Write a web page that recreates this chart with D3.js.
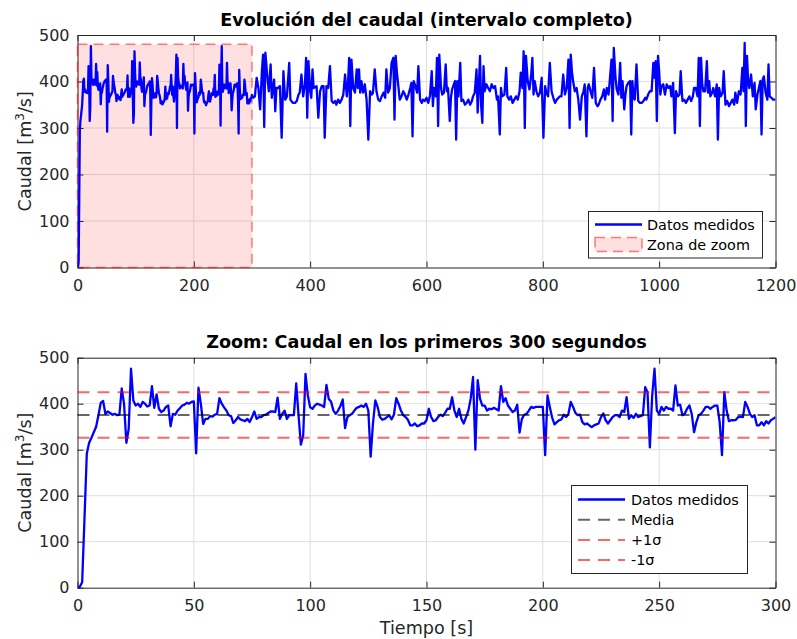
<!DOCTYPE html>
<html><head><meta charset="utf-8">
<script src="https://cdn.jsdelivr.net/npm/d3@7"></script>
<style>body{margin:0;background:#fff}svg{display:block}text{font-family:"DejaVu Sans",sans-serif}</style>
</head><body><svg id="c" width="797" height="639"></svg>
<script>
// Caudal medido, primeros 300 s (1 muestra por segundo, t = 0..300)
const zoomFlow = [
0,2,12,150,292,315,326,338,350,375,
402,406,378,383,380,376,378,375,376,433,
400,315,345,476,407,396,400,393,404,400,
394,396,438,391,420,389,382,385,393,396,
351,378,376,385,390,396,398,402,400,404,
405,292,435,400,356,367,367,373,372,376,
378,412,400,392,385,375,373,358,364,371,
366,364,362,367,360,371,383,367,371,371,
375,376,380,383,383,382,413,367,378,385,
367,375,375,375,444,375,311,331,465,418,
392,389,396,400,398,396,393,441,410,404,
385,378,385,395,409,347,371,375,378,385,
391,393,396,393,400,385,285,357,407,393,
371,365,367,371,375,366,376,412,400,385,
375,371,365,353,353,357,351,353,357,357,
364,389,371,362,364,371,376,373,380,389,
389,414,385,371,389,367,357,371,385,411,
458,300,451,411,396,396,385,389,388,391,
388,385,438,404,412,396,389,382,385,398,
337,367,376,378,385,393,391,393,393,393,
393,288,418,393,370,355,360,364,366,376,
371,378,404,393,380,375,376,360,355,357,
353,349,353,355,357,371,379,364,357,364,
371,375,375,371,385,382,414,367,375,369,
378,371,373,375,436,425,305,418,476,385,
378,393,385,393,389,389,385,440,396,398,
375,378,389,396,378,338,360,375,378,385,
393,393,389,393,396,396,360,288,425,385,
362,364,364,365,371,372,371,404,393,378,
371,375,353,353,360,353,362,357,364,367,
371];
// Resto del intervalo (t > 300 s)
const restTime = [
302,305,308,311,314,317,319,321,323,327,
329,332,334,338,340,342,345,348,351,354,
357,360,364,366,370,374,377,380,382,385,
388,391,393,395,397,400,402,404,406,411,
414,417,420,423,425,428,431,434,437,440,
443,445,448,451,454,457,460,463,465,467,
469,471,474,477,480,482,484,486,488,491,
494,497,500,503,506,508,511,514,517,520,
523,526,529,531,534,537,540,543,545,547,
549,551,554,557,560,563,566,569,572,574,
576,578,581,584,586,589,592,594,597,600,
603,606,609,611,613,616,618,620,622,625,
627,630,633,635,637,640,642,644,647,649,
651,653,655,658,660,663,666,669,672,675,
678,680,683,686,688,690,692,694,696,698,
700,703,706,709,712,715,718,721,723,726,
728,730,734,737,739,742,745,748,751,754,
757,760,762,765,767,769,771,774,777,780,
782,784,786,789,792,795,798,801,804,806,
809,812,815,818,821,824,827,829,832,835,
838,841,844,846,848,850,852,855,858,861,
864,867,870,872,875,877,879,882,885,888,
891,894,896,899,902,905,907,910,913,915,
918,920,922,925,927,930,933,935,937,940,
942,944,947,950,952,954,956,958,961,964,
967,970,973,976,978,981,984,987,990,992,
994,996,998,1000,1002,1004,1007,1010,1013,1016,
1019,1021,1024,1027,1029,1032,1035,1037,1040,1043,
1046,1049,1052,1055,1058,1060,1063,1066,1068,1070,
1072,1074,1076,1079,1082,1084,1086,1088,1091,1093,
1096,1099,1101,1103,1106,1109,1111,1114,1117,1120,
1123,1126,1129,1131,1134,1137,1140,1143,1145,1147,
1149,1151,1153,1155,1158,1161,1164,1166,1169,1172,
1174,1176,1178,1180,1183,1186,1188,1190,1193,1196,
1200];
const restFlow = [
365,368,408,386,340,422,458,302,462,401,
379,437,365,404,336,386,386,390,279,422,
361,368,440,361,354,354,358,372,376,415,
368,394,451,322,444,379,365,426,386,390,
322,379,390,390,279,390,386,433,358,354,
358,350,361,354,361,372,415,368,394,451,
304,447,386,376,426,386,426,376,401,376,
394,361,275,379,372,376,426,379,361,358,
368,376,365,426,376,386,440,451,318,455,
422,397,361,368,379,372,361,372,386,397,
282,401,390,376,433,361,354,361,358,365,
354,370,422,347,386,368,451,304,458,386,
372,376,437,379,386,315,365,383,394,401,
275,401,368,440,358,361,350,354,361,350,
358,368,376,426,333,390,455,347,311,433,
379,394,386,379,394,386,390,361,368,286,
386,368,372,429,368,361,368,354,361,368,
361,379,419,386,465,300,455,401,383,415,
451,372,401,379,368,376,408,279,390,376,
368,440,379,365,354,361,365,368,368,415,
372,386,447,300,458,422,401,379,386,361,
318,368,379,394,282,386,394,379,365,429,
354,347,350,361,368,383,361,386,372,401,
447,315,472,408,383,372,440,365,401,340,
372,390,397,401,286,401,365,361,437,358,
354,354,358,365,361,372,379,379,440,408,
444,315,455,422,372,390,394,372,394,386,
390,368,397,289,379,368,372,422,358,361,
354,361,368,358,368,386,386,368,451,304,
451,394,379,379,444,376,401,368,376,386,
368,394,275,386,368,376,422,350,358,347,
354,361,350,376,354,379,372,429,379,483,
304,455,401,386,415,368,397,340,372,390,
401,286,404,411,376,361,437,368,365,361,
361];
const zoomWindow = [0, 300];     // s
const zoomTopFlow = 480;          // m3/s
const media = 375.5, sigma = 49.5;
const xTicksFull = [0,200,400,600,800,1000,1200];
const xTicksZoom = [0,50,100,150,200,250,300];
const yTicks = [0,100,200,300,400,500];
const titles = ["Evolución del caudal (intervalo completo)", "Zoom: Caudal en los primeros 300 segundos"];
const legendTop = ["Datos medidos", "Zona de zoom"];
const legendBottom = ["Datos medidos", "Media", "+1σ", "-1σ"];

const zoomData = zoomFlow.map((v,i)=>({t:i, v}));
const fullData = zoomData.concat(restTime.map((t,i)=>({t, v:restFlow[i]})));

const svg = d3.select("#c");
const AX = "#262626", FS = 16;
const L = 77.5, R = 775.5;

function panel(T, B, xDomain, xTicks, id) {
  const x = d3.scaleLinear().domain(xDomain).range([L, R]);
  const y = d3.scaleLinear().domain([0, 500]).range([B, T]);
  const g = svg.append("g");
  g.append("g").selectAll("line").data(xTicks.slice(1,-1)).join("line")
    .attr("x1", d=>x(d)).attr("x2", d=>x(d)).attr("y1", T).attr("y2", B)
    .attr("stroke", "#dfdfdf").attr("stroke-width", 1);
  g.append("g").selectAll("line").data(yTicks.slice(1,-1)).join("line")
    .attr("y1", d=>y(d)).attr("y2", d=>y(d)).attr("x1", L).attr("x2", R)
    .attr("stroke", "#dfdfdf").attr("stroke-width", 1);
  const style = sel => {
    sel.selectAll(".domain").attr("stroke", AX).attr("stroke-width", 1);
    sel.selectAll(".tick line").attr("stroke", AX);
    sel.selectAll(".tick text").attr("fill", AX).attr("font-size", FS).attr("font-family", "DejaVu Sans");
  };
  g.append("g").attr("transform", `translate(0,${B})`)
    .call(d3.axisBottom(x).tickValues(xTicks).tickSizeInner(-6).tickSizeOuter(0).tickPadding(12).tickFormat(d3.format("d"))).call(style);
  g.append("g").attr("transform", `translate(0,${T})`)
    .call(d3.axisTop(x).tickValues(xTicks).tickSizeInner(-6).tickSizeOuter(0).tickFormat("")).call(style);
  g.append("g").attr("transform", `translate(${L},0)`)
    .call(d3.axisLeft(y).tickValues(yTicks).tickSizeInner(-6).tickSizeOuter(0).tickPadding(8).tickFormat(d3.format("d"))).call(style);
  g.append("g").attr("transform", `translate(${R},0)`)
    .call(d3.axisRight(y).tickValues(yTicks).tickSizeInner(-6).tickSizeOuter(0).tickFormat("")).call(style);
  svg.append("clipPath").attr("id", id).append("rect").attr("x", L).attr("y", T-2).attr("width", R-L).attr("height", B-T+4);
  const yl = svg.append("text").attr("transform", `translate(30.5,${(T+B)/2}) rotate(-90)`)
    .attr("text-anchor", "middle").attr("font-size", 17.6).attr("fill", AX);
  yl.append("tspan").text("Caudal [m");
  yl.append("tspan").attr("font-size", 12).attr("dy", -7).text("3");
  yl.append("tspan").attr("dy", 7).text("/s]");
  return {g, x, y};
}

// ---------- Top panel ----------
const topP = panel(35, 267.5, [0, 1200], xTicksFull, "clipTop");
svg.append("text").attr("x", (L+R)/2).attr("y", 26).attr("text-anchor", "middle")
  .attr("font-size", 17.6).attr("font-weight", "bold").attr("fill", "#000").text(titles[0]);
svg.append("rect")
  .attr("x", topP.x(zoomWindow[0])).attr("y", topP.y(zoomTopFlow))
  .attr("width", topP.x(zoomWindow[1]) - topP.x(zoomWindow[0]))
  .attr("height", topP.y(0) - topP.y(zoomTopFlow))
  .attr("fill", "#ff0000").attr("fill-opacity", 0.12)
  .attr("stroke", "#ff0000").attr("stroke-opacity", 0.5).attr("stroke-width", 1.5).attr("stroke-dasharray", "10,6");
const line = (sx, sy) => d3.line().x(d=>sx(d.t)).y(d=>sy(d.v));
svg.append("path").datum(fullData).attr("clip-path", "url(#clipTop)")
  .attr("d", line(topP.x, topP.y)).attr("fill", "none").attr("stroke", "#0000ff")
  .attr("stroke-width", 2.3).attr("stroke-linejoin", "round");

const lt = svg.append("g");
lt.append("rect").attr("x", 588.5).attr("y", 211.5).attr("width", 174).attr("height", 46.5)
  .attr("fill", "#fff").attr("stroke", AX).attr("stroke-width", 1);
lt.append("line").attr("x1", 595).attr("x2", 642).attr("y1", 224.5).attr("y2", 224.5)
  .attr("stroke", "#0000ff").attr("stroke-width", 2.3);
lt.append("rect").attr("x", 595).attr("y", 237.5).attr("width", 47).attr("height", 14)
  .attr("fill", "#ff0000").attr("fill-opacity", 0.12)
  .attr("stroke", "#ff0000").attr("stroke-opacity", 0.5).attr("stroke-width", 1.5).attr("stroke-dasharray", "10,6");
lt.selectAll("text").data(legendTop).join("text")
  .attr("x", 647).attr("y", (d,i)=>224.5 + i*20 + 5.2).attr("font-size", 14.4).attr("fill", "#000").text(d=>d);

// ---------- Bottom panel ----------
const botP = panel(357.7, 587.7, [0, 300], xTicksZoom, "clipBot");
svg.append("text").attr("x", (L+R)/2).attr("y", 347.5).attr("text-anchor", "middle")
  .attr("font-size", 17.6).attr("font-weight", "bold").attr("fill", "#000").text(titles[1]);
svg.append("path").datum(zoomData).attr("clip-path", "url(#clipBot)")
  .attr("d", line(botP.x, botP.y)).attr("fill", "none").attr("stroke", "#0000ff")
  .attr("stroke-width", 2.3).attr("stroke-linejoin", "round");
const refLines = [
  {v: media, c: "#000000"},
  {v: media + sigma, c: "#ff0000"},
  {v: media - sigma, c: "#ff0000"}
];
svg.append("g").selectAll("line").data(refLines).join("line")
  .attr("x1", botP.x(zoomWindow[0])).attr("x2", botP.x(zoomWindow[1]))
  .attr("y1", d=>botP.y(d.v)).attr("y2", d=>botP.y(d.v))
  .attr("stroke", d=>d.c).attr("stroke-opacity", 0.6).attr("stroke-width", 2).attr("stroke-dasharray", "12,8");

const lb = svg.append("g");
lb.append("rect").attr("x", 571.5).attr("y", 485.5).attr("width", 176).attr("height", 88)
  .attr("fill", "#fff").attr("stroke", AX).attr("stroke-width", 1);
const lbStyles = [
  {c:"#0000ff", o:1, dash:null},
  {c:"#000000", o:0.6, dash:"12,8"},
  {c:"#ff0000", o:0.6, dash:"12,8"},
  {c:"#ff0000", o:0.6, dash:"12,8"}
];
lbStyles.forEach((s,i)=>{
  const yy = 499.5 + i*20.2;
  lb.append("line").attr("x1", 578).attr("x2", 625).attr("y1", yy).attr("y2", yy)
    .attr("stroke", s.c).attr("stroke-opacity", s.o).attr("stroke-width", i === 0 ? 2.3 : 2)
    .attr("stroke-dasharray", s.dash);
  lb.append("text").attr("x", 631).attr("y", yy + 5.2).attr("font-size", 14.4).attr("fill", "#000").text(legendBottom[i]);
});

svg.append("text").attr("x", (L+R)/2).attr("y", 634).attr("text-anchor", "middle")
  .attr("font-size", 17.6).attr("fill", AX).text("Tiempo [s]");
</script></body></html>
